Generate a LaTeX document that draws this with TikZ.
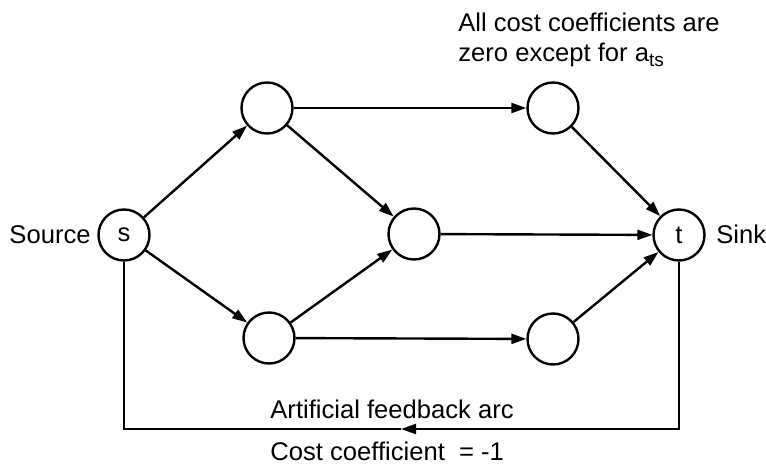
\documentclass[tikz,border=0pt]{standalone}
\usepackage{fontspec}
\setmainfont{Liberation Sans}
\usetikzlibrary{arrows.meta,decorations.markings}
\begin{document}
\begin{tikzpicture}[x=0.5pt,y=-0.5pt,
  every node/.style={font=\fontsize{12.8}{15}\selectfont},
  vertex/.style={circle,draw,line width=1.2pt,minimum size=25.5pt,inner sep=0pt},
  edge/.style={line width=1.2pt,-{Triangle[length=7.5pt,width=5pt]}},
  plain/.style={line width=1.1pt},
  lbl/.style={anchor=base west,inner sep=0pt},
  lble/.style={anchor=base east,inner sep=0pt}]
\useasboundingbox (0,0) rectangle (766,465);
\node[vertex] (s) at (124,235) {s};
\node[vertex] (a) at (267,108) {};
\node[vertex] (b) at (269,338) {};
\node[vertex] (m) at (414,234) {};
\node[vertex] (c) at (553,108) {};
\node[vertex] (d) at (553,339) {};
\node[vertex] (t) at (679,235) {t};
\draw[edge] (s) -- (a);
\draw[edge] (s) -- (b);
\draw[edge] (a) -- (c);
\draw[edge] (a) -- (m);
\draw[edge] (b) -- (m);
\draw[edge] (b) -- (d);
\draw[edge] (m) -- (t);
\draw[edge] (c) -- (t);
\draw[edge] (d) -- (t);
\coordinate (fbR) at (679,429);
\coordinate (fbL) at (124,429);
\coordinate (fbM) at (401,429);
\draw[edge,line width=1.1pt] (t.south) -- (fbR) -- (fbM);
\draw[plain] (fbM) -- (fbL) -- (s.south);
\node[lble] (src) at (91,243) {Source};
\node[lbl] (snk) at (716,243) {Sink};
\node[lbl] (n1) at (458,32) {All cost coefficients are};
\node[lbl] (n2) at (458,62) {zero except for a\raisebox{-2pt}{\fontsize{9.5}{9.5}\selectfont ts}};
\node[lbl] (fa) at (270,418) {Artificial feedback arc};
\node[lbl] (cc) at (270,460) {Cost coefficient\ \ = -1};
\end{tikzpicture}
\end{document}
